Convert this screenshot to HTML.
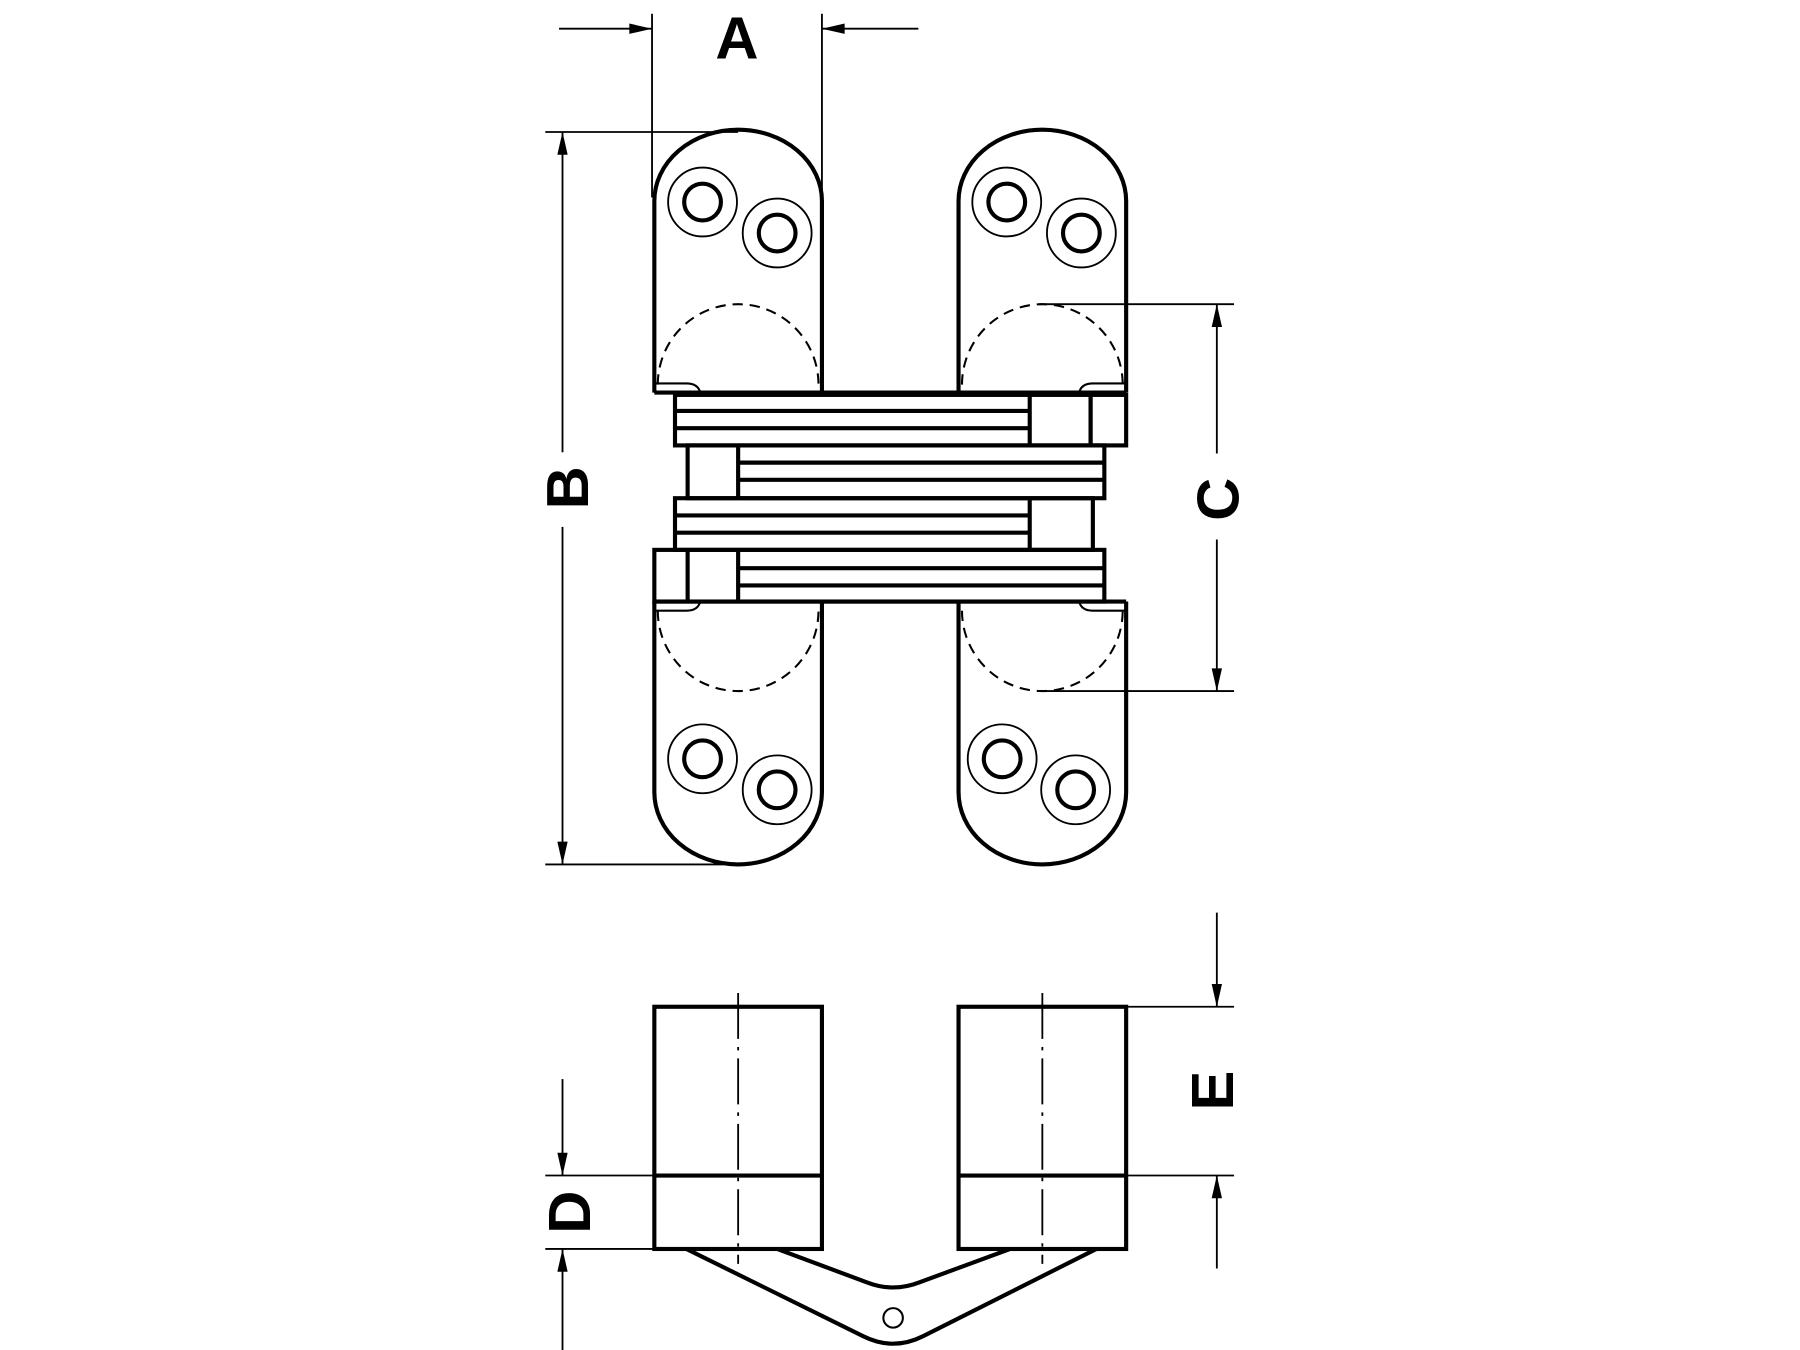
<!DOCTYPE html>
<html><head><meta charset="utf-8"><style>html,body{margin:0;padding:0;background:#fff}svg{display:block}</style></head>
<body>
<svg width="1800" height="1350" viewBox="0 0 1568 1176" xmlns="http://www.w3.org/2000/svg">
<defs>
<marker id="ar" viewBox="0 0 22 10" refX="22" refY="5" markerWidth="22" markerHeight="9" markerUnits="userSpaceOnUse" orient="auto"><path d="M0,0 L22,5 L0,10 Z" fill="#000"/></marker>
</defs>
<g fill="none" stroke="#000" stroke-linecap="butt">
<path d="M570,342 L570,175 A73,62 0 0 1 716,175 L716,342" stroke-width="3.6"/>
<path d="M835,342 L835,175 A73,62 0 0 1 981,175 L981,342" stroke-width="3.6"/>
<path d="M570,524 L570,690 A73,63 0 0 0 716,690 L716,524" stroke-width="3.6"/>
<path d="M835,524 L835,690 A73,63 0 0 0 981,690 L981,524" stroke-width="3.6"/>
<g stroke-width="1.6">
<circle cx="612" cy="176" r="30"/><circle cx="677" cy="203" r="30"/>
<circle cx="877" cy="176" r="30"/><circle cx="942" cy="203" r="30"/>
<circle cx="612" cy="661" r="30"/><circle cx="677" cy="688" r="30"/>
<circle cx="873" cy="661" r="30"/><circle cx="937" cy="688" r="30"/>
</g>
<g stroke-width="3.6">
<circle cx="612" cy="176" r="16"/><circle cx="677" cy="203" r="16"/>
<circle cx="877" cy="176" r="16"/><circle cx="942" cy="203" r="16"/>
<circle cx="612" cy="661" r="16"/><circle cx="677" cy="688" r="16"/>
<circle cx="873" cy="661" r="16"/><circle cx="937" cy="688" r="16"/>
</g>
<g stroke-width="1.8" stroke-dasharray="9,6">
<path d="M573,335 A70,70 0 0 1 713,335"/>
<path d="M838,335 A70,70 0 0 1 978,335"/>
<path d="M573,532 A70,70 0 0 0 713,532"/>
<path d="M838,532 A70,70 0 0 0 978,532"/>
</g>
<g stroke-width="1.8">
<path d="M570,334 L598,334 Q608,334 610,342"/>
<path d="M981,334 L952,334 Q942,334 940,342"/>
<path d="M570,532 L598,532 Q608,532 610,524"/>
<path d="M981,532 L952,532 Q942,532 940,524"/>
</g>
<g stroke-width="3.6">
<line x1="570" y1="342" x2="981" y2="342"/>
<rect x="588" y="344" width="362" height="44"/>
<rect x="950" y="344" width="31" height="44"/>
<line x1="897" y1="344" x2="897" y2="388"/>
<line x1="588" y1="358" x2="897" y2="358"/>
<line x1="588" y1="373" x2="897" y2="373"/>
<rect x="599" y="388" width="363" height="46"/>
<line x1="643" y1="388" x2="643" y2="434"/>
<line x1="643" y1="403" x2="962" y2="403"/>
<line x1="643" y1="418" x2="962" y2="418"/>
<rect x="588" y="434" width="364" height="45"/>
<line x1="897" y1="434" x2="897" y2="479"/>
<line x1="588" y1="449" x2="897" y2="449"/>
<line x1="588" y1="464" x2="897" y2="464"/>
<rect x="570" y="479" width="392" height="45"/>
<line x1="599" y1="479" x2="599" y2="524"/>
<line x1="643" y1="479" x2="643" y2="524"/>
<line x1="643" y1="495" x2="962" y2="495"/>
<line x1="643" y1="510" x2="962" y2="510"/>
<line x1="570" y1="524" x2="981" y2="524"/>
</g>
<g stroke-width="1.6">
<line x1="568" y1="12" x2="568" y2="172"/>
<line x1="716" y1="12" x2="716" y2="172"/>
<line x1="487" y1="25" x2="568" y2="25" marker-end="url(#ar)"/>
<line x1="800" y1="25" x2="716" y2="25" marker-end="url(#ar)"/>
<line x1="475" y1="115" x2="643" y2="115"/>
<line x1="475" y1="753" x2="630" y2="753"/>
<line x1="490" y1="394" x2="490" y2="115" marker-end="url(#ar)"/>
<line x1="490" y1="459" x2="490" y2="753" marker-end="url(#ar)"/>
<line x1="905" y1="265" x2="1075" y2="265"/>
<line x1="905" y1="602" x2="1075" y2="602"/>
<line x1="1060" y1="395" x2="1060" y2="265" marker-end="url(#ar)"/>
<line x1="1060" y1="470" x2="1060" y2="602" marker-end="url(#ar)"/>
<line x1="475" y1="1024" x2="570" y2="1024"/>
<line x1="475" y1="1088" x2="570" y2="1088"/>
<line x1="490" y1="940" x2="490" y2="1024" marker-end="url(#ar)"/>
<line x1="490" y1="1176" x2="490" y2="1088" marker-end="url(#ar)"/>
<line x1="981" y1="877" x2="1075" y2="877"/>
<line x1="981" y1="1024" x2="1075" y2="1024"/>
<line x1="1060" y1="795" x2="1060" y2="877" marker-end="url(#ar)"/>
<line x1="1060" y1="1105" x2="1060" y2="1024" marker-end="url(#ar)"/>
</g>
<g stroke-width="3.6">
<rect x="570" y="877" width="146" height="211"/>
<line x1="570" y1="1024" x2="716" y2="1024"/>
<rect x="835" y="877" width="146" height="211"/>
<line x1="835" y1="1024" x2="981" y2="1024"/>
<path d="M598,1088 L752,1164 Q778,1177 804,1164 L955,1088"/>
<path d="M677,1088 L755,1117 Q778,1126 801,1117 L880,1088"/>
</g>
<circle cx="778" cy="1148" r="8.5" stroke-width="1.8"/>
<g stroke-width="1.6" stroke-dasharray="40,7,3,7">
<line x1="643" y1="865" x2="643" y2="1101"/>
<line x1="908" y1="865" x2="908" y2="1101"/>
</g>
</g>
<g font-family="Liberation Sans, sans-serif" font-weight="bold" font-size="52" fill="#000" text-anchor="middle">
<text x="642" y="51">A</text>
<text transform="translate(512,425) rotate(-90)">B</text>
<text transform="translate(1079,435) rotate(-90)">C</text>
<text transform="translate(514,1056) rotate(-90)">D</text>
<text transform="translate(1074,950) rotate(-90)">E</text>
</g>
</svg>
</body></html>
